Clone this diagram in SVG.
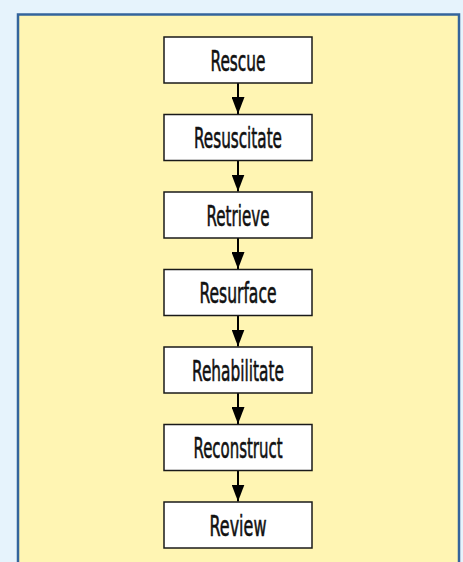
<svg xmlns="http://www.w3.org/2000/svg" width="463" height="562" viewBox="0 0 463 562">
<defs>
<style>
.bg{fill:#e6f3fc}
.panel{fill:#fff5b3;stroke:#34649c;stroke-width:2.5}
.box{fill:#ffffff;stroke:#1a1a1a;stroke-width:1.5}
.lbl{font-family:"DejaVu Sans Condensed","DejaVu Sans",sans-serif;font-size:29px;fill:#111;stroke:#111;stroke-width:0.6;text-anchor:middle}
.conn{stroke:#000;stroke-width:2;fill:none}
</style>
<marker id="ah" markerUnits="userSpaceOnUse" markerWidth="17" markerHeight="13" refX="17" refY="6.5" orient="auto" viewBox="0 0 17 13">
<path d="M0,0 L17,6.5 L0,13 Z" fill="#000"/>
</marker>
</defs>
<rect class="bg" x="0" y="0" width="463" height="562"/>
<rect class="panel" x="18" y="14.5" width="441" height="560"/>
<g id="connectors">
<line class="conn" x1="238" y1="83" x2="238" y2="114" marker-end="url(#ah)"/>
<line class="conn" x1="238" y1="160.5" x2="238" y2="191.5" marker-end="url(#ah)"/>
<line class="conn" x1="238" y1="238" x2="238" y2="269" marker-end="url(#ah)"/>
<line class="conn" x1="238" y1="315.5" x2="238" y2="346.5" marker-end="url(#ah)"/>
<line class="conn" x1="238" y1="393" x2="238" y2="424" marker-end="url(#ah)"/>
<line class="conn" x1="238" y1="470.5" x2="238" y2="501.5" marker-end="url(#ah)"/>
</g>
<g id="rescue"><rect class="box" x="164" y="37" width="148" height="46"/><text class="lbl" x="238" y="70.5" textLength="55" lengthAdjust="spacingAndGlyphs">Rescue</text></g>
<g id="resuscitate"><rect class="box" x="164" y="114.5" width="148" height="46"/><text class="lbl" x="238" y="148" textLength="88" lengthAdjust="spacingAndGlyphs">Resuscitate</text></g>
<g id="retrieve"><rect class="box" x="164" y="192" width="148" height="46"/><text class="lbl" x="238" y="225.5" textLength="63" lengthAdjust="spacingAndGlyphs">Retrieve</text></g>
<g id="resurface"><rect class="box" x="164" y="269.5" width="148" height="46"/><text class="lbl" x="238" y="303" textLength="77" lengthAdjust="spacingAndGlyphs">Resurface</text></g>
<g id="rehabilitate"><rect class="box" x="164" y="347" width="148" height="46"/><text class="lbl" x="238" y="380.5" textLength="92" lengthAdjust="spacingAndGlyphs">Rehabilitate</text></g>
<g id="reconstruct"><rect class="box" x="164" y="424.5" width="148" height="46"/><text class="lbl" x="238" y="458" textLength="89" lengthAdjust="spacingAndGlyphs">Reconstruct</text></g>
<g id="review"><rect class="box" x="164" y="502" width="148" height="46"/><text class="lbl" x="238" y="535.5" textLength="57" lengthAdjust="spacingAndGlyphs">Review</text></g>
</svg>
